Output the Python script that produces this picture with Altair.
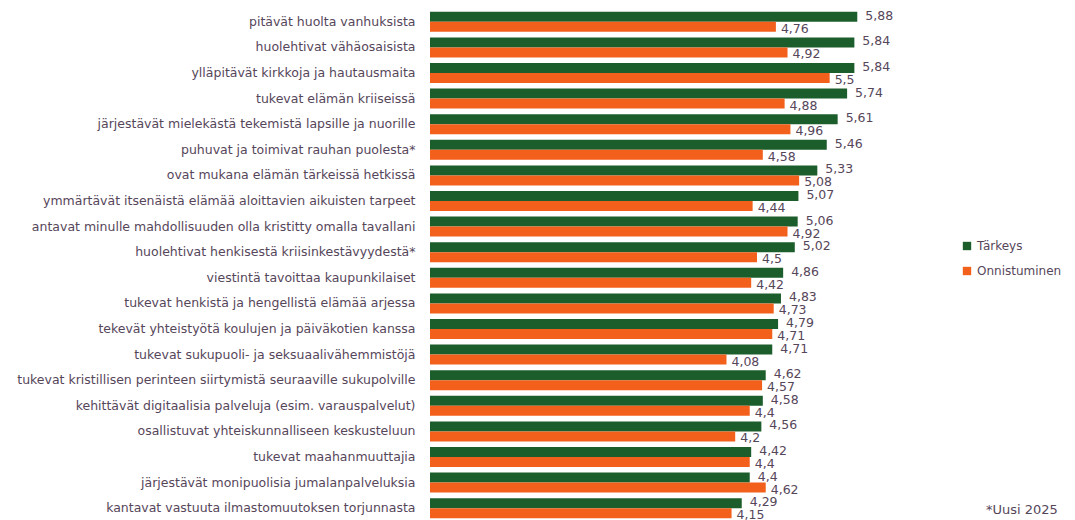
import altair as alt
import pandas as pd

categories = [
    "pitävät huolta vanhuksista",
    "huolehtivat vähäosaisista",
    "ylläpitävät kirkkoja ja hautausmaita",
    "tukevat elämän kriiseissä",
    "järjestävät mielekästä tekemistä lapsille ja nuorille",
    "puhuvat ja toimivat rauhan puolesta*",
    "ovat mukana elämän tärkeissä hetkissä",
    "ymmärtävät itsenäistä elämää aloittavien aikuisten tarpeet",
    "antavat minulle mahdollisuuden olla kristitty omalla tavallani",
    "huolehtivat henkisestä kriisinkestävyydestä*",
    "viestintä tavoittaa kaupunkilaiset",
    "tukevat henkistä ja hengellistä elämää arjessa",
    "tekevät yhteistyötä koulujen ja päiväkotien kanssa",
    "tukevat sukupuoli- ja seksuaalivähemmistöjä",
    "tukevat kristillisen perinteen siirtymistä seuraaville sukupolville",
    "kehittävät digitaalisia palveluja (esim. varauspalvelut)",
    "osallistuvat yhteiskunnalliseen keskusteluun",
    "tukevat maahanmuuttajia",
    "järjestävät monipuolisia jumalanpalveluksia",
    "kantavat vastuuta ilmastomuutoksen torjunnasta",
]
tarkeys = [5.88, 5.84, 5.84, 5.74, 5.61, 5.46, 5.33, 5.07, 5.06, 5.02,
           4.86, 4.83, 4.79, 4.71, 4.62, 4.58, 4.56, 4.42, 4.4, 4.29]
onnistuminen = [4.76, 4.92, 5.5, 4.88, 4.96, 4.58, 5.08, 4.44, 4.92, 4.5,
                4.42, 4.73, 4.71, 4.08, 4.57, 4.4, 4.2, 4.4, 4.62, 4.15]
series = ["Tärkeys", "Onnistuminen"]
colors = ["#1c5e2b", "#f2601c"]

rows = []
for c, t, o in zip(categories, tarkeys, onnistuminen):
    rows.append({"cat": c, "series": series[0], "value": t})
    rows.append({"cat": c, "series": series[1], "value": o})
df = pd.DataFrame(rows)

FONT = "DejaVu Sans"
TXT = "#56465a"

y_enc = alt.Y("cat:N", sort=categories, title=None,
              scale=alt.Scale(paddingInner=0.22, paddingOuter=0.11),
              axis=alt.Axis(domain=False, ticks=False, labelPadding=15,
                            labelFont=FONT, labelFontSize=12.5, labelColor=TXT,
                            labelLimit=430))
x_enc = alt.X("value:Q", scale=alt.Scale(domain=[0, 6]), axis=None)
yoff = alt.YOffset("series:N", sort=series)

bars = alt.Chart(df).mark_bar(size=10).encode(
    x=x_enc, y=y_enc, yOffset=yoff,
    color=alt.Color("series:N", sort=series,
                    scale=alt.Scale(domain=series, range=colors),
                    legend=alt.Legend(title=None, orient="none", legendX=531, legendY=231,
                                      symbolType="square", symbolSize=70,
                                      labelFont=FONT, labelFontSize=12, labelColor=TXT,
                                      rowPadding=13, symbolStrokeWidth=0)),
)

lbl = alt.Chart(df).transform_calculate(
    label="replace(toString(datum.value), '.', ',')"
)
green_lbl = lbl.transform_filter(alt.datum.series == series[0]).mark_text(
    align="left", baseline="middle", dx=8, dy=-1, font=FONT, fontSize=12.5,
    color=TXT
).encode(x=x_enc, y=y_enc, yOffset=yoff, text="label:N")
orange_lbl = lbl.transform_filter(alt.datum.series == series[1]).mark_text(
    align="left", baseline="middle", dx=5, dy=2, font=FONT, fontSize=12.5,
    color=TXT
).encode(x=x_enc, y=y_enc, yOffset=yoff, text="label:N")

note = alt.Chart(pd.DataFrame({"t": ["*Uusi 2025"]})).mark_text(
    align="left", baseline="alphabetic", font=FONT, fontSize=13, color=TXT
).encode(x=alt.value(556), y=alt.value(505), text="t:N")

chart = alt.layer(bars, green_lbl, orange_lbl, note).properties(
    width=436, height=512,
    autosize=alt.AutoSizeParams(type="none"),
    padding={"left": 422, "top": 1, "right": 200, "bottom": 0},
    background="white",
).configure_view(stroke=None)

chart.save("out.html", embed_options={"renderer": "svg", "actions": False})
